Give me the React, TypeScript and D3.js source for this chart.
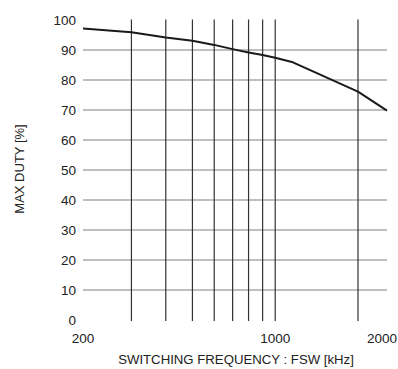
import * as d3 from 'd3'

const freqs = [200, 300, 400, 500, 600, 700, 800, 900, 1000, 1160, 2000, 2550]
const maxDuty = [97.2, 95.9, 94.2, 93.1, 91.7, 90.3, 89.2, 88.3, 87.4, 85.9, 76.1, 69.8]
const gridFreqs = [300, 400, 500, 600, 700, 800, 900, 1000, 2000]
const xTickLabels = ['200', '1000']
const yTicks = [0, 10, 20, 30, 40, 50, 60, 70, 80, 90, 100]
const yGridTicks = [10, 20, 30, 40, 50, 60, 70, 80, 90]

export default function App() {
  const width = 398
  const height = 369
  const margin = { top: 20, right: 11, bottom: 49, left: 83 }
  const x = d3
    .scaleLog()
    .domain([200, 2550])
    .range([margin.left, width - margin.right])
  const y = d3
    .scaleLinear()
    .domain([0, 100])
    .range([height - margin.bottom, margin.top])
  const line = d3
    .line<number>()
    .x((_, i) => x(freqs[i]))
    .y((d) => y(d))
  const font = '"Liberation Sans", Arial, sans-serif'

  return (
    <svg
      width={width}
      height={height}
      viewBox={`0 0 ${width} ${height}`}
      style={{ position: 'absolute', left: 0, top: 0, background: '#fff' }}
      fontFamily={font}
    >
      {yGridTicks.map((tick) => (
        <line
          key={tick}
          x1={margin.left}
          x2={width - margin.right}
          y1={y(tick)}
          y2={y(tick)}
          stroke="#808080"
          strokeWidth="1.2"
        />
      ))}

      {gridFreqs.map((f) => (
        <line
          key={f}
          x1={x(f)}
          x2={x(f)}
          y1={y(100) - 0.5}
          y2={y(0) + 1}
          stroke="#333"
          strokeWidth="1.2"
        />
      ))}

      <path d={line(maxDuty) ?? ''} fill="none" stroke="#1a1a1a" strokeWidth="2" strokeLinejoin="round" />

      {yTicks.map((tick) => (
        <text
          key={tick}
          x={margin.left - 7}
          y={y(tick)}
          dy="0.35em"
          textAnchor="end"
          fontSize="13.5"
          fill="#222"
        >
          {tick}
        </text>
      ))}

      {xTickLabels.map((label) => (
        <text
          key={label}
          x={x(+label)}
          y={height - margin.bottom + 23}
          textAnchor="middle"
          fontSize="13.5"
          fill="#222"
        >
          {label}
        </text>
      ))}
      <text
        x={width - 1}
        y={height - margin.bottom + 23}
        textAnchor="end"
        fontSize="13.5"
        fill="#222"
      >
        2000
      </text>

      <text x={236} y={364} textAnchor="middle" fontSize="13.2" fill="#222">
        SWITCHING FREQUENCY : FSW [kHz]
      </text>
      <text
        transform={`translate(24,${y(50) - 1}) rotate(-90)`}
        textAnchor="middle"
        fontSize="13"
        fill="#222"
      >
        MAX DUTY [%]
      </text>
    </svg>
  )
}
